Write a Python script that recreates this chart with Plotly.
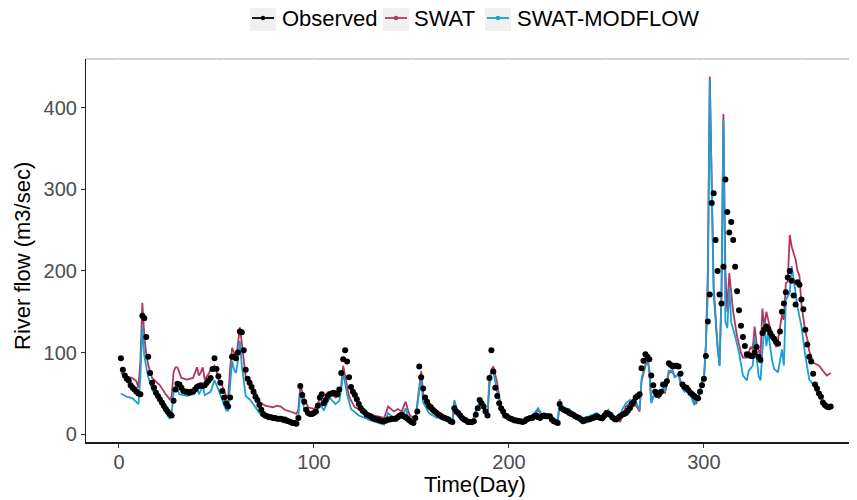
import plotly.graph_objects as go

# ---------------- data ----------------
obs_values = [
    93, 79, 72, 68, 66, 60, 57, 55, 52, 50,
    49, 145, 142, 119, 95, 75, 63, 57, 51, 47,
    43, 39, 35, 31, 28, 25, 23, 41, 55, 62,
    61, 57, 53, 52, 52, 51, 52, 52, 55, 58,
    59, 60, 59, 60, 63, 66, 69, 80, 93, 80,
    71, 63, 53, 45, 38, 34, 45, 95, 95, 93,
    100, 126, 125, 103, 79, 68, 63, 58, 52, 46,
    42, 36, 30, 25, 23, 22, 21, 21, 20, 20,
    19, 19, 19, 18, 18, 17, 16, 15, 14, 14,
    13, 20, 59, 48, 40, 30, 26, 25, 25, 26,
    28, 35, 45, 49, 38, 42, 47, 49, 50, 51,
    50, 49, 55, 75, 92, 103, 89, 70, 58, 52,
    48, 43, 37, 32, 29, 27, 24, 23, 22, 20,
    19, 18, 18, 17, 16, 16, 17, 18, 18, 19,
    19, 19, 21, 23, 24, 22, 21, 19, 17, 15,
    14, 20, 28, 83, 70, 56, 45, 40, 35, 33,
    30, 28, 26, 24, 22, 21, 20, 19, 18, 16,
    15, 32, 28, 26, 23, 20, 18, 17, 15, 15,
    15, 16, 24, 32, 42, 38, 34, 28, 23, 69,
    103, 77, 57, 47, 38, 32, 28, 23, 22, 20,
    19, 18, 17, 17, 16, 16, 15, 16, 18, 19,
    20, 20, 22, 23, 21, 20, 22, 23, 22, 22,
    22, 18, 16, 15, 14, 37, 32, 30, 29, 28,
    26, 25, 24, 22, 21, 20, 18, 16, 17, 18,
    18, 19, 20, 21, 22, 21, 20, 20, 23, 26,
    25, 24, 21, 19, 18, 20, 22, 24, 25, 26,
    29, 32, 37, 40, 45, 47, 49, 81, 90, 98,
    95, 92, 72, 60, 52, 48, 49, 52, 61, 61,
    65, 87, 85, 83, 84, 84, 83, 74, 61, 58,
    57, 54, 51, 49, 47, 45, 44, 52, 60, 68,
    96, 138, 171, 283, 295, 238, 200, 171, 160, 205,
    312, 272, 247, 260, 238, 205, 175, 152, 133, 119,
    108, 98, 97, 96, 96, 100, 107, 95, 91, 124,
    128, 132, 129, 124, 120, 117, 113, 111, 126, 150,
    160, 174, 192, 200, 188, 170, 159, 186, 183, 165,
    153, 128, 110, 95, 89, 74, 61, 56, 50, 46,
    39, 36, 34, 33, 34,
]
obs_days = list(range(1, len(obs_values) + 1))

swat_days = [1, 4, 7, 9, 10, 11, 12, 13, 14, 15, 17, 19, 21, 24, 26, 27, 28, 29, 30, 32,
             35, 38, 40, 41, 42, 43, 44, 46, 47, 49, 50, 51, 53, 55, 56, 57, 58, 59, 60, 61,
             62, 63, 64, 65, 67, 70, 72, 75, 79, 81, 83, 85, 89, 91, 92, 93, 95, 97, 100, 102,
             103, 105, 107, 109, 111, 113, 114, 115, 117, 118, 121, 124, 129, 136, 138, 141, 143, 145, 147, 149,
             152, 154, 155, 156, 158, 163, 165, 168, 171, 172, 174, 178, 181, 183, 185, 187, 189, 190, 191, 192,
             194, 196, 199, 204, 207, 211, 213, 215, 217, 221, 224, 225, 226, 227, 231, 233, 236, 238, 241, 245,
             248, 251, 254, 256, 257, 259, 260, 262, 263, 265, 267, 268, 271, 272, 273, 275, 277, 279, 280, 282,
             284, 285, 287, 288, 290, 292, 295, 296, 298, 299, 300, 301, 302, 303, 304, 305, 307, 308, 309, 310,
             311, 312, 313, 315, 317, 319, 320, 322, 324, 325, 326, 327, 329, 330, 331, 332, 334, 337, 338, 340,
             341, 342, 343, 344, 345, 346, 347, 348, 349, 350, 352, 353, 354, 356, 359, 361, 363, 365]
swat_values = [75, 71, 69, 65, 57, 90, 161, 120, 98, 85, 69, 64, 60, 49, 43, 46, 76, 82, 82, 69,
               67, 69, 82, 72, 76, 82, 67, 74, 79, 84, 78, 67, 59, 47, 45, 80, 106, 100, 91, 110,
               131, 112, 88, 70, 64, 51, 40, 35, 33, 35, 34, 30, 27, 25, 30, 60, 44, 33, 31, 37,
               45, 37, 51, 49, 45, 47, 60, 84, 59, 46, 33, 30, 24, 20, 34, 28, 31, 28, 40, 24,
               18, 59, 77, 50, 32, 24, 26, 20, 14, 40, 26, 18, 14, 28, 38, 32, 24, 60, 79, 83,
               63, 30, 19, 17, 14, 20, 24, 30, 22, 21, 13, 13, 40, 30, 27, 22, 18, 16, 18, 22,
               17, 26, 16, 19, 15, 27, 34, 38, 33, 36, 28, 65, 93, 78, 40, 52, 44, 57, 50, 76,
               76, 70, 74, 65, 55, 58, 40, 37, 52, 64, 68, 110, 200, 438, 300, 180, 108, 84, 170, 392,
               200, 150, 197, 150, 120, 100, 94, 94, 107, 104, 132, 111, 96, 154, 132, 150, 130, 107, 116, 146,
               140, 185, 187, 244, 230, 221, 214, 200, 194, 159, 125, 117, 102, 88, 84, 78, 72, 75]

smf_days = [1, 4, 7, 9, 10, 11, 12, 13, 15, 17, 21, 24, 26, 27, 28, 29, 30, 31, 35, 38,
            40, 41, 43, 44, 47, 49, 51, 53, 55, 56, 57, 58, 59, 60, 61, 62, 63, 65, 67, 70,
            73, 77, 82, 84, 90, 92, 93, 95, 98, 101, 103, 105, 108, 111, 113, 114, 115, 117, 119, 123,
            129, 136, 138, 141, 143, 145, 147, 149, 152, 154, 155, 156, 159, 163, 165, 169, 171, 172, 174, 178,
            181, 183, 185, 187, 189, 190, 191, 192, 194, 196, 199, 204, 207, 211, 213, 215, 217, 221, 224, 225,
            226, 227, 231, 233, 236, 238, 241, 245, 248, 251, 254, 256, 257, 258, 260, 262, 263, 265, 267, 268,
            271, 272, 273, 275, 277, 279, 280, 282, 284, 285, 287, 288, 290, 292, 295, 298, 299, 300, 301, 302,
            303, 304, 305, 307, 308, 309, 310, 311, 312, 313, 314, 316, 318, 320, 322, 323, 325, 326, 328, 329,
            331, 332, 333, 335, 336, 338, 340, 341, 342, 344, 345, 347, 348, 350, 352, 354, 356, 358, 361, 363,
            365]
smf_values = [50, 46, 44, 40, 37, 70, 133, 96, 70, 55, 38, 27, 19, 25, 50, 59, 55, 49, 47, 49,
              59, 49, 59, 48, 52, 66, 55, 41, 29, 29, 60, 90, 79, 75, 90, 114, 84, 47, 43, 33,
              23, 20, 19, 15, 12, 20, 53, 31, 23, 27, 39, 29, 45, 37, 41, 55, 76, 49, 31, 23,
              17, 12, 26, 20, 24, 20, 32, 16, 14, 55, 70, 39, 26, 20, 24, 16, 13, 42, 24, 16,
              12, 28, 40, 30, 23, 71, 77, 77, 51, 32, 20, 18, 15, 22, 26, 32, 24, 23, 14, 14,
              43, 33, 31, 26, 22, 20, 22, 26, 21, 30, 20, 23, 20, 30, 38, 42, 36, 40, 30, 68,
              96, 78, 38, 52, 44, 57, 52, 78, 78, 70, 73, 61, 52, 56, 36, 52, 66, 65, 110, 171,
              434, 293, 171, 106, 84, 171, 385, 138, 130, 180, 137, 120, 100, 72, 66, 78, 84, 118, 72, 66,
              137, 108, 124, 90, 80, 76, 104, 84, 165, 173, 206, 173, 156, 132, 96, 67, 61, 51, 42, 34,
              30]

assert len(obs_values) == 365
assert len(swat_days) == len(swat_values)
assert len(smf_days) == len(smf_values)

x_ticks = [0, 100, 200, 300]
y_ticks = [0, 100, 200, 300, 400]

series_names = ["Observed", "SWAT", "SWAT-MODFLOW"]
series_colors = ["#000000", "#B3365F", "#1B9FD6"]

# ---------------- layout geometry (window pixels) ----------------
OFF = 8                      # the page body margin shifts the figure by 8 px
WIN_W, WIN_H = 857, 500
W, H = WIN_W - OFF, WIN_H - OFF
PANEL_L, PANEL_R, PANEL_T, PANEL_B = 86, 857, 59, 442   # in window pixels
L = PANEL_L - OFF
T = PANEL_T - OFF
R = WIN_W - PANEL_R
B = WIN_H - PANEL_B
PW = PANEL_R - PANEL_L
PH = PANEL_B - PANEL_T


def px_x(px):
    return (px - PANEL_L) / PW


def px_y(py):
    return (PANEL_B - py) / PH


fig = go.Figure()

fig.add_trace(go.Scatter(x=swat_days, y=swat_values, mode="lines", name="SWAT",
                         line=dict(color=series_colors[1], width=1.8), showlegend=False))
fig.add_trace(go.Scatter(x=smf_days, y=smf_values, mode="lines", name="SWAT-MODFLOW",
                         line=dict(color=series_colors[2], width=1.8), showlegend=False))
fig.add_trace(go.Scatter(x=obs_days, y=obs_values, mode="markers", name="Observed",
                         marker=dict(color=series_colors[0], size=6), showlegend=False))

shapes = []
# top panel border (gray)
shapes.append(dict(type="line", xref="paper", yref="paper", x0=0, x1=1, y0=1, y1=1,
                   line=dict(color="#a8a8a8", width=1.2), layer="below"))

# manual legend with gray key boxes
legend_boxes = [(250, 276), (383, 409), (485, 511)]
legend_text_x = [280, 412, 515]
key_y0, key_y1 = 4, 31
key_cy = 18
annotations = []
for (bx0, bx1), tx, name, col in zip(legend_boxes, legend_text_x, series_names, series_colors):
    shapes.append(dict(type="rect", xref="paper", yref="paper",
                       x0=px_x(bx0), x1=px_x(bx1), y0=px_y(key_y1), y1=px_y(key_y0),
                       fillcolor="#f0f0f0", line=dict(width=0)))
    shapes.append(dict(type="line", xref="paper", yref="paper",
                       x0=px_x(bx0 + 2), x1=px_x(bx1 - 2), y0=px_y(key_cy), y1=px_y(key_cy),
                       line=dict(color=col, width=1.8)))
    cx = (bx0 + bx1) / 2
    shapes.append(dict(type="circle", xref="paper", yref="paper",
                       x0=px_x(cx - 2.2), x1=px_x(cx + 2.2), y0=px_y(key_cy + 2.2), y1=px_y(key_cy - 2.2),
                       fillcolor=col, line=dict(color=col, width=0)))
    annotations.append(dict(text=name, xref="paper", yref="paper", x=px_x(tx), y=px_y(key_cy + 1),
                            xanchor="left", yanchor="middle", showarrow=False,
                            font=dict(size=22, color="#000000")))

# axis titles
annotations.append(dict(text="Time(Day)", xref="paper", yref="paper", x=px_x(475), y=px_y(484.5),
                        xanchor="center", yanchor="middle", showarrow=False,
                        font=dict(size=22, color="#000000")))
annotations.append(dict(text="River flow (m3/sec)", xref="paper", yref="paper", x=px_x(22), y=px_y(256),
                        xanchor="center", yanchor="middle", showarrow=False, textangle=-90,
                        font=dict(size=22, color="#000000")))

fig.update_layout(
    width=W, height=H,
    margin=dict(l=L, r=R, t=T, b=B, pad=0),
    paper_bgcolor="white", plot_bgcolor="white",
    font=dict(family="Liberation Sans, Arial, sans-serif"),
    shapes=shapes, annotations=annotations, showlegend=False,
)
fig.update_xaxes(
    range=[-16.9, 378.5], tickvals=x_ticks, ticktext=[str(v) for v in x_ticks],
    ticks="outside", ticklen=4, tickwidth=1, tickcolor="#333333",
    tickfont=dict(size=20, color="#4d4d4d"), ticklabelstandoff=-3,
    showline=True, linecolor="#1a1a1a", linewidth=1.5,
    showgrid=True, gridcolor="white", gridwidth=1.2,
    minor=dict(dtick=50, tick0=0, showgrid=True, gridcolor="white", gridwidth=1.2),
    zeroline=False,
)
fig.update_yaxes(
    range=[-9.4, 459.4], tickvals=y_ticks, ticktext=[str(v) for v in y_ticks],
    ticks="outside", ticklen=4, tickwidth=1, tickcolor="#333333",
    tickfont=dict(size=20, color="#4d4d4d"),
    showline=True, linecolor="#1a1a1a", linewidth=1.2,
    showgrid=False, zeroline=False,
)

fig.write_html("out.html")
